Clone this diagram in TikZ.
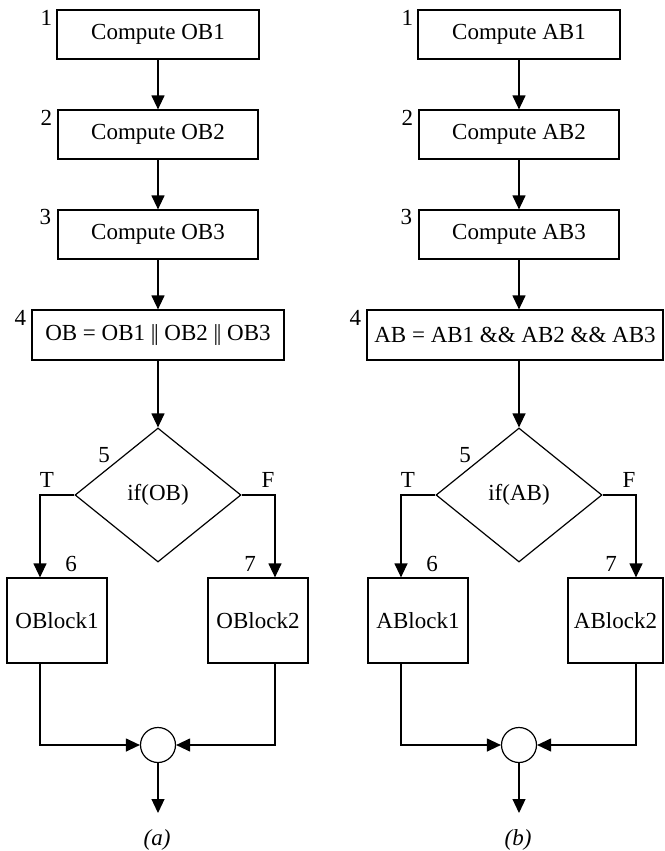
\documentclass[tikz,border=0pt]{standalone}
\usepackage{fontspec}
\setmainfont{Liberation Serif}
\usetikzlibrary{shapes.geometric,arrows.meta,calc}
\begin{document}
\begin{tikzpicture}[x=1pt,y=-1pt,
  every node/.style={font=\fontsize{23}{27}\selectfont},
  line width=1.2pt,
  box/.style={draw, rectangle, inner sep=0pt, minimum height=49pt},
  blk/.style={draw, rectangle, inner sep=0pt, minimum height=85pt},
  dec/.style={draw, diamond, inner sep=0pt, minimum width=166pt, minimum height=134pt},
  merge/.style={draw, circle, inner sep=0pt, minimum size=35pt},
  arr/.style={-{Triangle[length=14pt,width=13pt]}},
  num/.style={font=\fontsize{23}{27}\selectfont, inner sep=0pt},
  capt/.style={font=\fontsize{23}{27}\selectfont\itshape, inner sep=0pt}]
\useasboundingbox (0,0) rectangle (664,851);

% ---------- panel (a) ----------
\node[box, minimum width=202pt] (a1) at (158,34.5) {Compute OB1};
\node[box, minimum width=200pt] (a2) at (158,134.5) {Compute OB2};
\node[box, minimum width=200pt] (a3) at (158,234.5) {Compute OB3};
\node[box, minimum width=252pt, minimum height=50pt] (a4) at (158,335) {OB = OB1 \textbar\kern-0.06em\textbar{} OB2 \textbar\kern-0.06em\textbar{} OB3};
\node[dec] (ad) at (158,495) {if(OB)};
\node[blk, minimum width=100pt] (a6) at (57,620.5) {OBlock1};
\node[blk, minimum width=100pt] (a7) at (258,620.5) {OBlock2};
\node[merge] (ac) at (158,745) {};
\coordinate (aT) at (40,495);
\coordinate (aF) at (275,495);
\coordinate (aout) at (158,813);

\draw[arr] (a1.south) -- (a2.north);
\draw[arr] (a2.south) -- (a3.north);
\draw[arr] (a3.south) -- (a4.north);
\draw[arr] (a4.south) -- (ad.north);
\draw[arr] (ad.west) -| (a6.north -| aT);
\draw[arr] (ad.east) -| (a7.north -| aF);
\draw[arr] (a6.south -| aT) |- (ac.west);
\draw[arr] (a7.south -| aF) |- (ac.east);
\draw[arr] (ac.south) -- (aout);

\node[num] (an1) at ($(a1.north west)+(-10,9)$) {1};
\node[num] (an2) at ($(a2.north west)+(-11,8)$) {2};
\node[num] (an3) at ($(a3.north west)+(-12,8)$) {3};
\node[num] (an4) at ($(a4.north west)+(-11,9)$) {4};
\node[num] (an5) at (104,455) {5};
\node[num] (aTl) at ($(aT)+(7,-15)$) {T};
\node[num] (aFl) at ($(aF)+(-7,-15)$) {F};
\node[num] (an6) at (71,564) {6};
\node[num] (an7) at (250,564) {7};
\node[capt] (acap) at (157,840) {(a)};

% ---------- panel (b) ----------
\begin{scope}[xshift=361pt]
\node[box, minimum width=202pt] (b1) at (158,34.5) {Compute AB1};
\node[box, minimum width=200pt] (b2) at (158,134.5) {Compute AB2};
\node[box, minimum width=200pt] (b3) at (158,234.5) {Compute AB3};
\node[box, minimum width=296pt, minimum height=50pt] (b4) at (154,335) {AB = AB1 \&\& AB2 \&\& AB3};
\node[dec] (bd) at (158,495) {if(AB)};
\node[blk, minimum width=100pt] (b6) at (57,620.5) {ABlock1};
\node[blk, minimum width=95pt] (b7) at (254.5,620.5) {ABlock2};
\node[merge] (bc) at (158,745) {};
\coordinate (bT) at (40,495);
\coordinate (bF) at (275,495);
\coordinate (bout) at (158,813);

\draw[arr] (b1.south) -- (b2.north);
\draw[arr] (b2.south) -- (b3.north);
\draw[arr] (b3.south) -- (b4.north -| b3.south);
\draw[arr] (b4.south -| bd.north) -- (bd.north);
\draw[arr] (bd.west) -| (b6.north -| bT);
\draw[arr] (bd.east) -| (b7.north -| bF);
\draw[arr] (b6.south -| bT) |- (bc.west);
\draw[arr] (b7.south -| bF) |- (bc.east);
\draw[arr] (bc.south) -- (bout);

\node[num] (bn1) at ($(b1.north west)+(-10,9)$) {1};
\node[num] (bn2) at ($(b2.north west)+(-11,8)$) {2};
\node[num] (bn3) at ($(b3.north west)+(-12,8)$) {3};
\node[num] (bn4) at ($(b4.north west)+(-11,9)$) {4};
\node[num] (bn5) at (104,455) {5};
\node[num] (bTl) at ($(bT)+(7,-15)$) {T};
\node[num] (bFl) at ($(bF)+(-7,-15)$) {F};
\node[num] (bn6) at (71,564) {6};
\node[num] (bn7) at (250,564) {7};
\node[capt] (bcap) at (157,840) {(b)};
\end{scope}
\end{tikzpicture}
\end{document}
